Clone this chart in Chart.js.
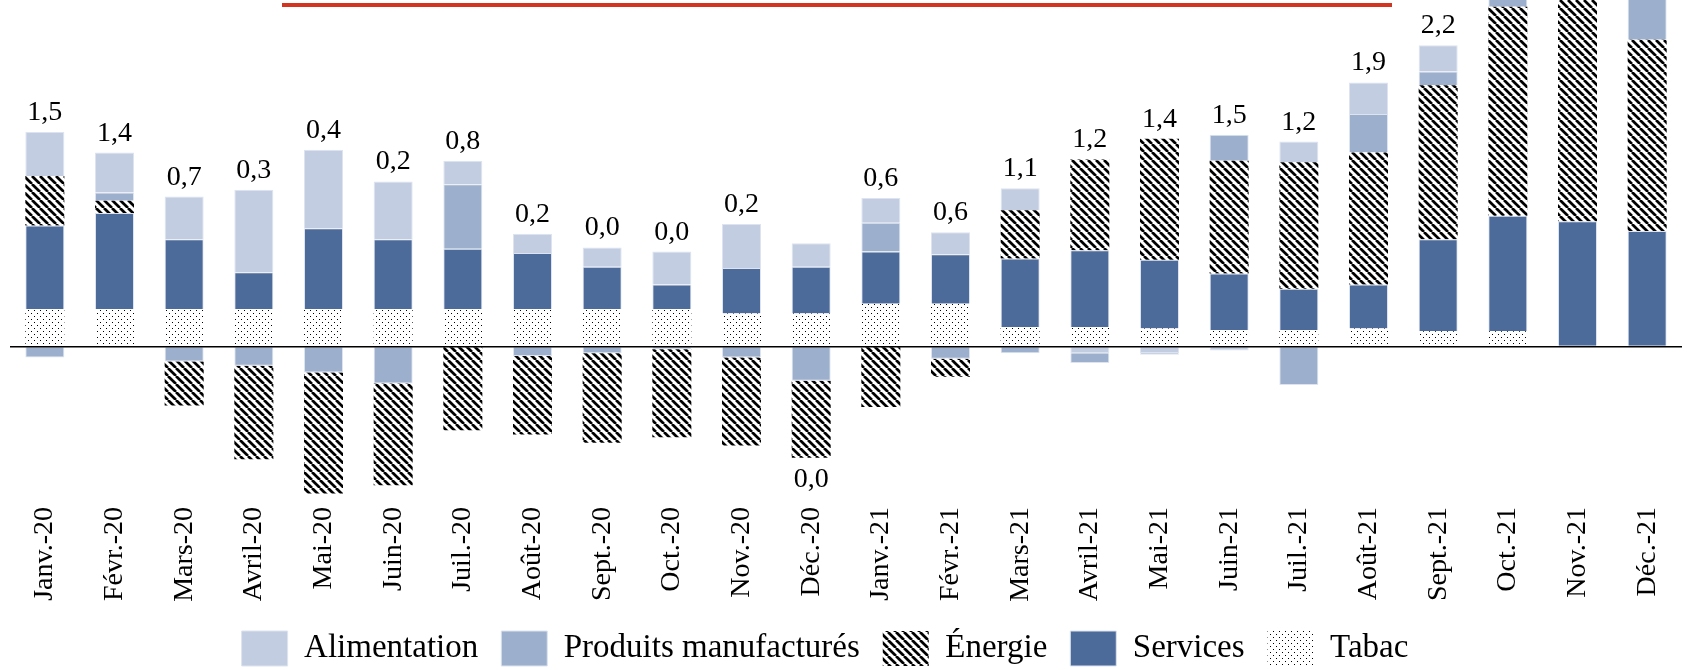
<!DOCTYPE html>
<html lang="fr">
<head>
<meta charset="utf-8">
<title>Contributions à l'inflation</title>
<script src="https://cdn.jsdelivr.net/npm/chart.js@4.4.1/dist/chart.umd.min.js"></script>
<style>
  html, body { margin: 0; padding: 0; background: #fff; }
  #wrap { position: relative; width: 1691px; height: 670px; }
  #topRule { position: absolute; left: 282px; top: 3px; width: 1110px; height: 4px; background: #d2341f; }
</style>
</head>
<body>
<div id="wrap">
  <canvas id="contribChart"></canvas>
  <div id="topRule"></div>
</div>
<script>
const months = ["Janv.-20", "Févr.-20", "Mars-20", "Avril-20", "Mai-20", "Juin-20", "Juil.-20", "Août-20",
    "Sept.-20", "Oct.-20", "Nov.-20", "Déc.-20", "Janv.-21", "Févr.-21", "Mars-21", "Avril-21", "Mai-21",
    "Juin-21", "Juil.-21", "Août-21", "Sept.-21", "Oct.-21", "Nov.-21", "Déc.-21"];

// headline figure printed above each bar
const totals = [1.5, 1.4, 0.7, 0.3, 0.4, 0.2, 0.8, 0.2, 0.0, 0.0, 0.2, 0.0,
    0.6, 0.6, 1.1, 1.2, 1.4, 1.5, 1.2, 1.9, 2.2, 2.6, 2.8, 2.8];

// contributions, in points
const alimentation = [0.32, 0.29, 0.31, 0.60, 0.57, 0.42, 0.17, 0.14, 0.14, 0.24, 0.32, 0.17,
    0.18, 0.16, 0.16, -0.05, -0.05, -0.03, 0.15, 0.23, 0.19, 0.04, 0.09, 0.19];
const manufactures = [-0.08, 0.06, -0.11, -0.14, -0.19, -0.27, 0.47, -0.07, -0.05, -0.02, -0.08, -0.25,
    0.21, -0.09, -0.05, -0.07, -0.01, 0.19, -0.28, 0.28, 0.10, 0.09, 0.10, 0.38];
const energie = [0.36, 0.09, -0.32, -0.68, -0.88, -0.74, -0.61, -0.57, -0.65, -0.64, -0.64, -0.56,
    -0.44, -0.13, 0.35, 0.66, 0.88, 0.82, 0.92, 0.96, 1.12, 1.52, 1.70, 1.39];
const services = [0.61, 0.70, 0.51, 0.27, 0.59, 0.51, 0.44, 0.41, 0.31, 0.18, 0.33, 0.34,
    0.38, 0.36, 0.50, 0.56, 0.50, 0.41, 0.30, 0.32, 0.67, 0.84, 0.91, 0.84];
const tabac = [0.27, 0.27, 0.27, 0.27, 0.27, 0.27, 0.27, 0.27, 0.27, 0.27, 0.24, 0.24,
    0.31, 0.31, 0.14, 0.14, 0.13, 0.12, 0.12, 0.13, 0.11, 0.11, 0, 0];

const legendOrder = ["Alimentation", "Produits manufacturés", "Énergie", "Services", "Tabac"];

const FONT = '"Liberation Serif", "Times New Roman", serif';
const canvas = document.getElementById('contribChart');
const mainCtx = canvas.getContext('2d');

function makeHatch() {
    const s = 8;
    const c = document.createElement('canvas');
    c.width = s; c.height = s;
    const g = c.getContext('2d');
    g.fillStyle = '#fff';
    g.fillRect(0, 0, s, s);
    g.strokeStyle = '#000';
    g.lineWidth = 2.7;
    [-s, 0, s].forEach(function (k) {
        g.beginPath();
        g.moveTo(k, 0);
        g.lineTo(k + s, s);
        g.stroke();
    });
    return mainCtx.createPattern(c, 'repeat');
}

function makeDots() {
    const s = 6;
    const c = document.createElement('canvas');
    c.width = s; c.height = s;
    const g = c.getContext('2d');
    g.fillStyle = '#fff';
    g.fillRect(0, 0, s, s);
    g.fillStyle = '#000';
    g.fillRect(1, 1, 1, 1);
    g.fillRect(4, 4, 1, 1);
    return mainCtx.createPattern(c, 'repeat');
}

const hatch = makeHatch();
const dots = makeDots();
const colAlim = '#c2cde1';
const colManuf = '#9cafcd';
const colServ = '#4c6b9a';
const edge = '#dde4ef';

// positives and negatives are stacked in opposite order in the original, so split them
const posOnly = arr => arr.map(v => v > 0 ? v : null);
const negOnly = arr => arr.map(v => v < 0 ? v : null);

function bar(label, data, bg, bordered) {
    return {
        label: label,
        data: data,
        backgroundColor: bg,
        borderColor: edge,
        borderWidth: bordered ? 1 : 0,
        categoryPercentage: 0.56,
        barPercentage: 1.0
    };
}

const datasets = [
    bar("Tabac", tabac, dots, false),
    bar("Services", services, colServ, true),
    bar("Énergie", posOnly(energie), hatch, false),
    bar("Produits manufacturés", posOnly(manufactures), colManuf, true),
    bar("Alimentation", posOnly(alimentation), colAlim, true),
    bar("Alimentation", negOnly(alimentation), colAlim, true),
    bar("Produits manufacturés", negOnly(manufactures), colManuf, true),
    bar("Énergie", negOnly(energie), hatch, false)
];

// figure above the positive stack, or under the negative one when the bar nets below zero
const totalLabels = {
    id: 'totalLabels',
    afterDatasetsDraw(chart) {
        const ctx = chart.ctx;
        const x = chart.scales.x, y = chart.scales.y;
        ctx.save();
        ctx.font = '28px ' + FONT;
        ctx.fillStyle = '#000';
        ctx.textAlign = 'center';
        ctx.textBaseline = 'alphabetic';
        months.forEach(function (m, i) {
            const parts = [tabac[i], services[i], energie[i], manufactures[i], alimentation[i]];
            let pos = 0, neg = 0;
            parts.forEach(v => { if (v > 0) pos += v; else neg += v; });
            const txt = totals[i].toFixed(1).replace('.', ',');
            const px = x.getPixelForValue(i);
            if (pos + neg >= 0) {
                ctx.fillText(txt, px, y.getPixelForValue(pos) - 12);
            } else {
                ctx.fillText(txt, px, y.getPixelForValue(neg) + 29);
            }
        });
        ctx.restore();
    }
};

const legendNudge = {
    id: 'legendNudge',
    afterLayout(chart) {
        const lg = chart.legend;
        lg.left -= 21; lg.right -= 21;
        lg.top += 6; lg.bottom += 6;
    }
};

new Chart(canvas, {
    type: 'bar',
    data: { labels: months, datasets: datasets },
    options: {
        responsive: true,
        maintainAspectRatio: false,
        animation: false,
        layout: { padding: { left: 10, right: 9, top: 0, bottom: 0 } },
        scales: {
            x: {
                stacked: true,
                grid: { display: false, drawTicks: false },
                border: { display: false },
                ticks: {
                    autoSkip: false,
                    maxRotation: 90,
                    minRotation: 90,
                    padding: 10,
                    color: '#000',
                    font: { family: FONT, size: 28 }
                },
                afterFit: function (scale) { scale.height = 105; }
            },
            y: {
                stacked: true,
                min: -1.095,
                max: 2.52,
                border: { display: false },
                grid: { drawTicks: false, color: '#000', lineWidth: 1.6, z: 1 },
                ticks: { display: false },
                afterBuildTicks: function (scale) { scale.ticks = [{ value: 0 }]; }
            }
        },
        plugins: {
            tooltip: { enabled: false },
            legend: {
                position: 'bottom',
                labels: {
                    boxWidth: 46,
                    boxHeight: 35,
                    padding: 23,
                    color: '#000',
                    font: { family: FONT, size: 33 },
                    filter: item => item.datasetIndex < 5,
                    sort: (a, b) => legendOrder.indexOf(a.text) - legendOrder.indexOf(b.text)
                }
            }
        }
    },
    plugins: [totalLabels, legendNudge]
});
</script>
</body>
</html>
